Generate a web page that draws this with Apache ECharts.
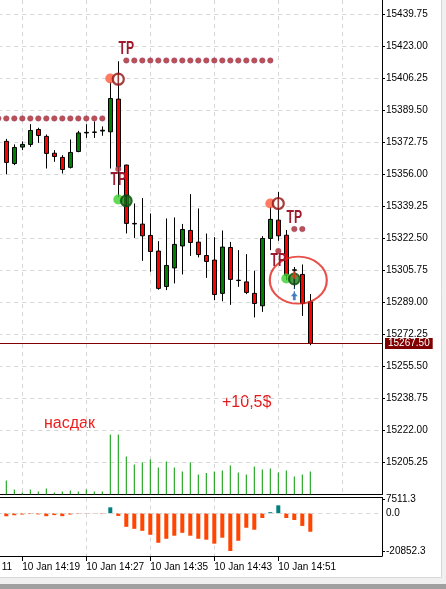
<!DOCTYPE html>
<html><head><meta charset="utf-8">
<script src="https://cdn.jsdelivr.net/npm/echarts@6/dist/echarts.min.js"></script>
<style>html,body{margin:0;padding:0;background:#fff;overflow:hidden}#c{width:446px;height:589px}</style>
</head><body><div id="c"></div>
<script>
// ---- data ----
const times   = ['14:17','14:18','14:19','14:20','14:21','14:22','14:23','14:24','14:25','14:26','14:27','14:28','14:29','14:30','14:31','14:32','14:33','14:34','14:35','14:36','14:37','14:38','14:39','14:40','14:41','14:42','14:43','14:44','14:45','14:46','14:47','14:48','14:49','14:50','14:51','14:52','14:53','14:54','14:55'];
const opens   = [15373.2,15361.6,15370.2,15371.6,15379.4,15375.8,15367.0,15364.8,15359.6,15367.9,15377.6,15377.9,15378.6,15378.2,15395.3,15360.8,15330.3,15329.9,15324.0,15315.8,15297.3,15307.0,15318.5,15326.6,15320.5,15313.5,15311.1,15293.7,15317.7,15300.4,15299.7,15293.7,15287.2,15322.4,15332.0,15324.1,15305.8,15303.6,15289.3];
const closes  = [15362.2,15370.0,15371.6,15378.9,15376.3,15366.9,15365.3,15358.5,15367.4,15377.6,15377.9,15378.1,15379.0,15395.6,15359.9,15330.3,15330.0,15323.8,15315.6,15296.3,15308.3,15319.3,15327.1,15320.3,15314.0,15310.4,15293.1,15317.9,15301.0,15300.6,15294.2,15288.4,15322.4,15332.4,15323.8,15303.2,15306.0,15288.4,15267.5];
const lows    = [15356.0,15360.8,15368.6,15370.3,15372.4,15359.0,15362.5,15356.4,15359.0,15367.5,15375.0,15375.0,15376.1,15359.0,15344.0,15325.0,15322.7,15310.7,15305.0,15295.6,15295.4,15298.9,15303.6,15313.3,15312.5,15301.8,15290.1,15289.6,15287.7,15297.1,15293.3,15281.1,15284.0,15316.3,15321.2,15300.6,15296.0,15281.9,15266.6];
const highs   = [15374.5,15371.6,15373.2,15382.2,15380.3,15376.8,15368.6,15366.0,15374.2,15378.7,15382.2,15383.6,15381.0,15404.3,15415.1,15361.0,15340.7,15343.5,15335.5,15321.0,15332.9,15333.4,15330.0,15345.6,15338.1,15325.0,15323.1,15326.6,15320.6,15316.3,15314.2,15305.5,15323.6,15338.9,15346.8,15326.8,15307.5,15308.8,15293.3];
const volumes = [280,100,40,100,60,120,40,60,80,60,100,60,60,1200,1200,760,600,640,700,540,660,540,460,640,400,430,460,480,580,440,400,560,500,520,440,480,360,400,460];
const oscValues = [-1650,-1100,-700,-400,-600,-1600,-1000,-1600,-700,-300,-200,-150,-300,3300,-1450,-7500,-8600,-9700,-11900,-16300,-14100,-12400,-10800,-12400,-14100,-14600,-16800,-13500,-20852.3,-15200,-8000,-9100,-2600,600,4400,-2600,-3700,-7000,-10200];

const timeTickLabels = ['14:19','14:27','14:35','14:43','14:51'];
const priceAxisMin = 15188.5, priceAxisMax = 15447.13, priceStep = 16.75;
const oscTickLabels = [7511.3, 0, -20852.3];

const tpLevel1 = 15385.2, tpLevel1Times = ['14:16','14:17','14:18','14:19','14:20','14:21','14:22','14:23','14:24','14:25','14:26','14:27','14:28','14:29'];
const tpLevel2 = 15415.5, tpLevel2Times = ['14:32','14:33','14:34','14:35','14:36','14:37','14:38','14:39','14:40','14:41','14:42','14:43','14:44','14:45','14:46','14:47','14:48','14:49','14:50'];
const tpSingleDots = [['14:31',15358.7],['14:51',15315.9],['14:53',15327.3],['14:54',15327.3]];
const tpLabels = [['14:32',15421.5],['14:31',15353.0],['14:53',15333.3],['14:51',15310.5]];
const entryMarks = [['14:30',15406.1,'sell'],['14:31',15342.8,'buy'],['14:50',15340.7,'sell'],['14:52',15301.5,'buy']];
const exitMarks  = [['14:31',15405.7,'sell'],['14:32',15342.1,'buy'],['14:51',15340.7,'sell'],['14:53',15301.2,'buy']];
const arrowDown = ['14:53',15303.2];
const arrowUp   = ['14:53',15292.2];
const circled   = ['14:53:30',15300.6];
const currentPrice = closes[closes.length-1];

// ---- helpers ----
const T0 = 14*60+11;
const tx = s => { const p = s.split(':').map(Number); return p[0]*60+p[1]+(p[2]||0)/60 - T0; };
const xMax = 52.9625;
const grey = '#d6d6d6';
const axisFont = {fontFamily:'Liberation Sans, Arial, sans-serif', fontSize:10, color:'#000'};

const candleData = times.map((t,i)=>[tx(t), opens[i], closes[i], lows[i], highs[i]]);
const volData = times.map((t,i)=>[tx(t), volumes[i]]);
const oscData = times.map((t,i)=>({value:[tx(t), oscValues[i]], itemStyle:{color: oscValues[i] >= 0 ? '#008080' : '#ff4500'}}));
const dotsData = tpLevel1Times.map(t=>[tx(t),tpLevel1]).concat(tpLevel2Times.map(t=>[tx(t),tpLevel2])).concat(tpSingleDots.map(d=>[tx(d[0]),d[1]]));

const chart = echarts.init(document.getElementById('c'), null, {renderer:'canvas'});
const baseGraphic = [
  {type:'text', left:1.7, top:562, style:{text:'11', fill:'#000', font:'10px "Liberation Sans", Arial, sans-serif'}},
  {type:'text', left:222, top:395, style:{text:'+10,5$', fill:'#e41a1c', font:'16px "Liberation Sans", Arial, sans-serif'}},
  {type:'text', left:44, top:416, style:{text:'насдак', fill:'#ee1c1c', font:'16px "Liberation Sans", Arial, sans-serif'}},
  {type:'rect', shape:{x:441, y:0, width:5, height:584}, style:{fill:'#f0f0f0'}, silent:true},
  {type:'rect', shape:{x:0, y:577, width:446, height:7}, style:{fill:'#f0f0f0'}, silent:true},
  {type:'line', shape:{x1:441.5, y1:0, x2:441.5, y2:577.5}, style:{stroke:'#d8d8d8', lineWidth:1}, silent:true},
  {type:'line', shape:{x1:0, y1:577.5, x2:441.5, y2:577.5}, style:{stroke:'#d8d8d8', lineWidth:1}, silent:true},
  {type:'rect', shape:{x:0, y:584, width:446, height:5}, style:{fill:'#a0a0a0'}, silent:true}
];
chart.setOption({
  animation:false,
  backgroundColor:'#fff',
  grid:[
    {left:-41.7, right:64, top:0, height:494.5, outerBoundsMode:'none', containLabel:false},
    {left:-41.7, right:64, top:424.5, height:70, outerBoundsMode:'none', containLabel:false},
    {left:-41.7, right:64, top:497.5, height:58.5, outerBoundsMode:'none', containLabel:false}
  ],
  xAxis:[
    {type:'value', gridIndex:0, min:0, max:xMax, interval:8,
     axisLine:{show:true, onZero:false, lineStyle:{color:'#000', width:1}}, axisTick:{show:false}, axisLabel:{show:false},
     splitLine:{show:true, showMinLine:false, showMaxLine:false, lineStyle:{color:grey, type:[4,4], width:1}}},
    {type:'value', gridIndex:1, min:0, max:xMax, show:false},
    {type:'value', gridIndex:2, min:0, max:xMax, interval:8, position:'bottom',
     axisLine:{show:true, onZero:false, lineStyle:{color:'#000', width:1}},
     axisTick:{show:true, length:5, customValues: timeTickLabels.map(tx), lineStyle:{color:'#000'}},
     axisLabel:Object.assign({show:true, customValues: timeTickLabels.map(tx), align:'left', margin:6,
       formatter: v => { const m = Math.round(v + T0); return '10 Jan ' + Math.floor(m/60) + ':' + String(m%60).padStart(2,'0'); }}, axisFont),
     splitLine:{show:true, showMinLine:false, showMaxLine:false, lineStyle:{color:grey, type:[4,4], width:1}}},
    {type:'value', gridIndex:2, min:0, max:xMax, position:'top',
     axisLine:{show:true, onZero:false, lineStyle:{color:'#000', width:1}}, axisTick:{show:false}, axisLabel:{show:false}, splitLine:{show:false}}
  ],
  yAxis:[
    {type:'value', gridIndex:0, position:'right', min:priceAxisMin, max:priceAxisMax, interval:priceStep, scale:true,
     axisLine:{show:true, onZero:false, lineStyle:{color:'#000', width:1}},
     axisTick:{show:true, length:3, lineStyle:{color:'#000'}},
     axisLabel:Object.assign({show:true, margin:4, showMinLabel:false, showMaxLabel:false, formatter: v => v.toFixed(2)}, axisFont),
     splitLine:{show:true, showMinLine:false, showMaxLine:false, lineStyle:{color:grey, type:[4,4], width:1}}},
    {type:'value', gridIndex:1, min:0, max:1400, show:false},
    {type:'value', gridIndex:2, position:'right', min:-23616.8, max:8727.7,
     axisLine:{show:true, onZero:false, lineStyle:{color:'#000', width:1}},
     axisTick:{show:true, length:3, customValues:[oscTickLabels[0], oscTickLabels[2]], lineStyle:{color:'#000'}},
     axisLabel:Object.assign({show:true, margin:4, customValues:oscTickLabels, formatter: v => v.toFixed(1)}, axisFont),
     splitLine:{show:false}}
  ],
  series:[
    {type:'bar', name:'volume', xAxisIndex:1, yAxisIndex:1, data:volData, barWidth:1, itemStyle:{color:'#009a00'}, silent:true, z:1},
    {type:'candlestick', name:'price', xAxisIndex:0, yAxisIndex:0, data:candleData, encode:{x:0, y:[1,2,3,4]},
     barWidth:4, clip:false,
     itemStyle:{color:'#008000', color0:'#ff0000', borderColor:'#000', borderColor0:'#000', borderColorDoji:'#000', borderWidth:1},
     markLine:{silent:true, symbol:['none','none'], animation:false,
       lineStyle:{color:'#800000', type:'solid', width:1},
       label:{show:true, position:'end', distance:3, formatter: () => currentPrice.toFixed(2),
         backgroundColor:'#800000', color:'#fff', padding:[1,3,0,3], fontFamily:'Liberation Sans, Arial, sans-serif', fontSize:10},
       data:[{yAxis:currentPrice}]}, z:3},
    {type:'scatter', name:'tpDots', xAxisIndex:0, yAxisIndex:0, data:dotsData, symbol:'circle', symbolSize:5.5,
     itemStyle:{color:'#ad2424', borderColor:'#8a3a78', borderWidth:0.5}, silent:true, z:4},
    {type:'scatter', name:'entries', xAxisIndex:0, yAxisIndex:0, symbol:'circle', symbolSize:10,
     data:entryMarks.map(d=>({value:[tx(d[0]),d[1]], itemStyle:{color: d[2]==='sell' ? '#ff5a3c' : '#3ccf2e'}})), silent:true, z:6},
    {type:'scatter', name:'exits', xAxisIndex:0, yAxisIndex:0, symbol:'circle', symbolSize:11,
     data:exitMarks.map(d=>({value:[tx(d[0]),d[1]], itemStyle: d[2]==='sell' ? {color:'#fff', borderColor:'#8b1010', borderWidth:2.2} : {color:'#1e7a1e', borderColor:'#0b4d0b', borderWidth:2}})), silent:true, z:7},
    {type:'scatter', name:'exitBars', xAxisIndex:0, yAxisIndex:0, symbol:'rect', symbolSize:[1.6,12],
     data:exitMarks.map(d=>({value:[tx(d[0]),d[1]], itemStyle:{color: d[2]==='sell' ? '#8b1010' : '#0b3d0b'}})), silent:true, z:8},
    {type:'line', name:'link', xAxisIndex:0, yAxisIndex:0, data:[[tx(arrowDown[0]),arrowDown[1]],[tx(arrowUp[0]),arrowUp[1]]],
     symbol:'none', lineStyle:{color:'#1f5fa0', type:[2,2], width:1}, silent:true, z:8},
    {type:'scatter', name:'arrows', xAxisIndex:0, yAxisIndex:0, symbol:'path://M5,0 L10,5 L7,5 L7,10 L3,10 L3,5 L0,5 Z', symbolSize:[7,8],
     data:[{value:[tx(arrowDown[0]),arrowDown[1]], symbolRotate:180, itemStyle:{color:'#e8401c'}},
           {value:[tx(arrowUp[0]),arrowUp[1]], itemStyle:{color:'#1f64b4'}}], silent:true, z:9},
    {type:'scatter', name:'ellipse', xAxisIndex:0, yAxisIndex:0, symbol:'circle', symbolSize:[57,47],
     data:[[tx(circled[0]),circled[1]]], itemStyle:{color:'rgba(0,0,0,0)', borderColor:'#e3241b', borderWidth:2}, silent:true, z:10},
    {type:'bar', name:'osc', xAxisIndex:2, yAxisIndex:2, data:oscData, barWidth:4, silent:true,
     markLine:{silent:true, symbol:['none','none'], label:{show:false}, lineStyle:{color:grey, type:[4,4], width:1}, data:[{yAxis:0}]}}
  ],
  graphic: baseGraphic
});
// "TP" labels: condensed bold text placed through the price scale
const tpGraphic = tpLabels.map(d => {
  const p = chart.convertToPixel({xAxisIndex:0, yAxisIndex:0}, [tx(d[0]), d[1]]);
  return {type:'text', x:p[0], y:p[1], scaleX:0.64, z:50, silent:true,
    style:{text:'TP', fill:'#9e1a2c', font:'bold 19px "Liberation Sans", Arial, sans-serif', align:'center', verticalAlign:'middle',
      textShadowColor:'rgba(125,70,165,0.75)', textShadowOffsetX:1.2, textShadowBlur:0}};
});
chart.setOption({graphic: baseGraphic.concat(tpGraphic)});
</script></body></html>
